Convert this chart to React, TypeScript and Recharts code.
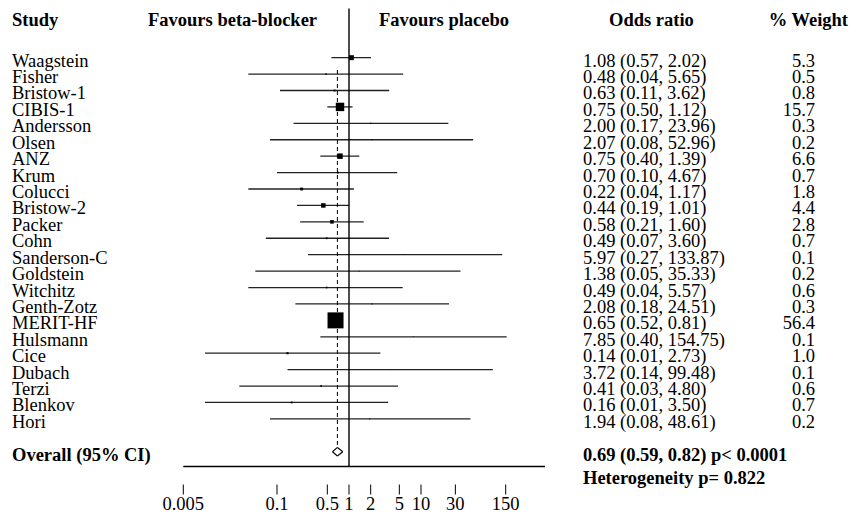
import React from 'react'
import { ComposedChart, Scatter, XAxis, YAxis, ReferenceLine } from 'recharts'

const studies = [
  'Waagstein', 'Fisher', 'Bristow-1', 'CIBIS-1', 'Andersson', 'Olsen', 'ANZ', 'Krum',
  'Colucci', 'Bristow-2', 'Packer', 'Cohn', 'Sanderson-C', 'Goldstein', 'Witchitz',
  'Genth-Zotz', 'MERIT-HF', 'Hulsmann', 'Cice', 'Dubach', 'Terzi', 'Blenkov', 'Hori',
]
const oddsRatios = [1.08, 0.48, 0.63, 0.75, 2.0, 2.07, 0.75, 0.7, 0.22, 0.44, 0.58, 0.49, 5.97, 1.38, 0.49, 2.08, 0.65, 7.85, 0.14, 3.72, 0.41, 0.16, 1.94]
const lowerCI = [0.57, 0.04, 0.11, 0.5, 0.17, 0.08, 0.4, 0.1, 0.04, 0.19, 0.21, 0.07, 0.27, 0.05, 0.04, 0.18, 0.52, 0.4, 0.01, 0.14, 0.03, 0.01, 0.08]
const upperCI = [2.02, 5.65, 3.62, 1.12, 23.96, 52.96, 1.39, 4.67, 1.17, 1.01, 1.6, 3.6, 133.87, 35.33, 5.57, 24.51, 0.81, 154.75, 2.73, 99.48, 4.8, 3.5, 48.61]
const weights = [5.3, 0.5, 0.8, 15.7, 0.3, 0.2, 6.6, 0.7, 1.8, 4.4, 2.8, 0.7, 0.1, 0.2, 0.6, 0.3, 56.4, 0.1, 1.0, 0.1, 0.6, 0.7, 0.2]

const overallOR = 0.69
const overallLow = 0.59
const overallHigh = 0.82
const overallP = 'p< 0.0001'
const heterogeneityP = 0.822

const axisTicks = [0.005, 0.1, 0.5, 1, 2, 5, 10, 30, 150]

// row positions on the y axis (study i sits at row i)
const headerRow = -2.4
const overallRow = 24

const FONT = 'Liberation Serif'
const FS = 18.5

const rows = studies.map((name, i) => ({ x: oddsRatios[i], y: i, w: weights[i], name }))

const fmt = (v: number) => v.toFixed(2)

const RowTick = (props: any) => {
  const { y, payload } = props
  const v = payload.value
  if (v === headerRow) {
    return (
      <g fontFamily={FONT} fontSize={FS} fontWeight="bold" fill="#000">
        <text x={12} y={y + 8}>Study</text>
        <text x={148} y={y + 8}>Favours beta-blocker</text>
        <text x={379} y={y + 8}>Favours placebo</text>
        <text x={609} y={y + 8}>Odds ratio</text>
        <text x={848} y={y + 8} textAnchor="end">% Weight</text>
      </g>
    )
  }
  if (v === overallRow) {
    return (
      <g fontFamily={FONT} fontSize={FS} fontWeight="bold" fill="#000">
        <text x={12} y={y + 9}>Overall (95% CI)</text>
        <text x={583} y={y + 9}>
          {`${fmt(overallOR)} (${fmt(overallLow)}, ${fmt(overallHigh)}) ${overallP}`}
        </text>
        <text x={583} y={y + 32}>{`Heterogeneity p= ${heterogeneityP}`}</text>
      </g>
    )
  }
  const i = v as number
  return (
    <g fontFamily={FONT} fontSize={FS} fill="#000">
      <text x={12} y={y + 9}>{studies[i]}</text>
      <text x={583} y={y + 9}>{`${fmt(oddsRatios[i])} (${fmt(lowerCI[i])}, ${fmt(upperCI[i])})`}</text>
      <text x={815} y={y + 9} textAnchor="end">{weights[i].toFixed(1)}</text>
    </g>
  )
}

const AxisTick = (props: any) => {
  const { x, y, payload } = props
  return (
    <g>
      <line x1={x} x2={x} y1={y + 18} y2={y + 28} stroke="#000" strokeWidth={1} />
      <text x={x} y={y + 43} textAnchor="middle" fontFamily={FONT} fontSize={FS} fill="#000">
        {payload.value}
      </text>
    </g>
  )
}

const WeightBox = (props: any) => {
  const { cx, cy, payload } = props
  const s = 2.13 * Math.sqrt(payload.w)
  return <rect x={cx - s / 2} y={cy - s / 2} width={s} height={s} fill="#000" />
}

const diamondH = 0.26

export default function App() {
  return (
    <div style={{ position: 'absolute', left: 0, top: 0, background: '#fff' }}>
      <ComposedChart width={849} height={515} data={rows} margin={{ top: 8.4, right: 304, bottom: 0, left: 182.3 }}>
        <XAxis
          dataKey="x"
          type="number"
          scale="log"
          domain={[0.005, 527]}
          allowDataOverflow
          ticks={axisTicks}
          interval={0}
          tickSize={0}
          tickMargin={0}
          height={48.5}
          axisLine={{ stroke: '#000', strokeWidth: 1.3 }}
          tickLine={false}
          tick={<AxisTick />}
        />
        <YAxis
          dataKey="y"
          type="number"
          domain={[-3, 24.9]}
          reversed
          allowDataOverflow
          ticks={[headerRow, ...studies.map((_, i) => i), overallRow]}
          interval={0}
          width={1}
          axisLine={false}
          tickLine={false}
          tick={<RowTick />}
        />
        {studies.map((name, i) => (
          <ReferenceLine
            key={name}
            segment={[{ x: lowerCI[i], y: i }, { x: upperCI[i], y: i }]}
            stroke="#222"
            strokeWidth={1.3}
          />
        ))}
        <ReferenceLine segment={[{ x: 1, y: -3 }, { x: 1, y: 24.9 }]} stroke="#000" strokeWidth={1.4} />
        <ReferenceLine
          segment={[{ x: overallOR, y: 0.75 }, { x: overallOR, y: overallRow - diamondH }]}
          stroke="#000"
          strokeWidth={1}
          strokeDasharray="4 3"
        />
        <ReferenceLine segment={[{ x: overallLow, y: overallRow }, { x: overallOR, y: overallRow - diamondH }]} stroke="#000" strokeWidth={1.1} />
        <ReferenceLine segment={[{ x: overallOR, y: overallRow - diamondH }, { x: overallHigh, y: overallRow }]} stroke="#000" strokeWidth={1.1} />
        <ReferenceLine segment={[{ x: overallHigh, y: overallRow }, { x: overallOR, y: overallRow + diamondH }]} stroke="#000" strokeWidth={1.1} />
        <ReferenceLine segment={[{ x: overallOR, y: overallRow + diamondH }, { x: overallLow, y: overallRow }]} stroke="#000" strokeWidth={1.1} />
        <Scatter dataKey="y" shape={<WeightBox />} isAnimationActive={false} />
      </ComposedChart>
    </div>
  )
}
